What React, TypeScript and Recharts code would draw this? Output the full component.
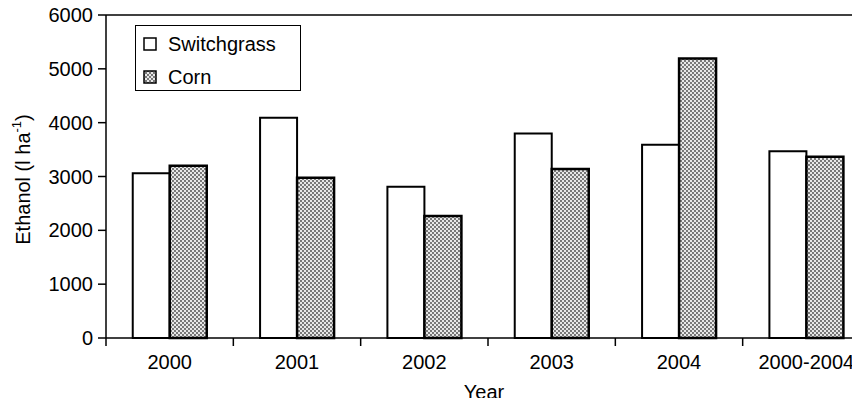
import { Bar, BarChart, Legend, ReferenceLine, XAxis, YAxis } from "recharts";

const years = ["2000", "2001", "2002", "2003", "2004", "2000-2004"];
const switchgrass = [3060, 4090, 2810, 3800, 3590, 3470];
const corn = [3200, 2975, 2265, 3140, 5190, 3365];
const yTicks = [0, 1000, 2000, 3000, 4000, 5000, 6000];

const data = years.map((year, i) => ({ year, switchgrass: switchgrass[i], corn: corn[i] }));

const FONT = '"Liberation Sans", Arial, sans-serif';

// ticks sit on category boundaries, labels in the middle
const YearTick = (props: any) => {
  const { x, y, payload } = props;
  const off = payload.offset ?? 0;
  return (
    <g>
      <line x1={x - off} x2={x - off} y1={y} y2={y + 8} stroke="#000" strokeWidth={1.5} />
      <text x={x} y={y + 31} textAnchor="middle" fontSize={20} fontFamily={FONT} fill="#000">
        {payload.value}
      </text>
    </g>
  );
};

const YLabel = (props: any) => {
  const { viewBox } = props;
  const cx = viewBox.x + 23;
  const cy = viewBox.y + viewBox.height / 2 + 3;
  return (
    <text
      x={cx}
      y={cy}
      transform={`rotate(-90 ${cx} ${cy})`}
      textAnchor="middle"
      dominantBaseline="central"
      fontSize={20}
      fontFamily={FONT}
      fill="#000"
    >
      Ethanol (l ha
      <tspan dy={-7} fontSize={13}>-1</tspan>
      <tspan dy={7}>)</tspan>
    </text>
  );
};

const XLabel = (props: any) => {
  const { viewBox } = props;
  return (
    <text
      x={viewBox.x + viewBox.width / 2 - 4}
      y={viewBox.y + 61}
      textAnchor="middle"
      fontSize={20}
      fontFamily={FONT}
      fill="#000"
    >
      Year
    </text>
  );
};

const LegendBox = () => (
  <div style={{ fontFamily: FONT, fontSize: 20, color: "#000", paddingLeft: 7, paddingTop: 5 }}>
    {[
      { name: "Switchgrass", fill: "#fff" },
      { name: "Corn", fill: "url(#cornDots)" },
    ].map((item) => (
      <div key={item.name} style={{ display: "flex", alignItems: "center", height: 26, marginBottom: 7 }}>
        <svg width={14} height={14} style={{ marginRight: 11 }}>
          <rect x={1} y={1} width={12} height={12} fill={item.fill} stroke="#000" strokeWidth={1.5} />
        </svg>
        <span>{item.name}</span>
      </div>
    ))}
  </div>
);

export default function App() {
  return (
    <div style={{ margin: -8, width: 860, height: 406, overflow: "hidden", background: "#fff", position: "relative" }}>
      <BarChart
        width={880}
        height={406}
        data={data}
        margin={{ top: 15, right: 10, left: 0, bottom: 0 }}
        barCategoryGap="21%"
        barGap={0}
      >
        <defs>
          <pattern id="cornDots" width={4} height={4} patternUnits="userSpaceOnUse">
            <rect width={4} height={4} fill="#e8e8e8" />
            <circle cx={1} cy={1} r={0.9} fill="#444" />
            <circle cx={3} cy={3} r={0.9} fill="#444" />
          </pattern>
        </defs>
        <XAxis
          dataKey="year"
          height={68}
          tickLine={false}
          tickSize={0}
          tickMargin={0}
          axisLine={{ stroke: "#000", strokeWidth: 1.5 }}
          tick={<YearTick />}
          interval={0}
          label={<XLabel />}
        />
        <YAxis
          width={106}
          domain={[0, 6000]}
          ticks={yTicks}
          interval={0}
          tickSize={8}
          tickMargin={5}
          tickLine={{ stroke: "#000", strokeWidth: 1.5 }}
          axisLine={{ stroke: "#000", strokeWidth: 1.5 }}
          tick={{ fill: "#000", fontSize: 20, fontFamily: FONT }}
          label={<YLabel />}
        />
        <ReferenceLine y={6000} stroke="#000" strokeWidth={1.5} />
        <Legend
          layout="vertical"
          align="center"
          verticalAlign="middle"
          content={<LegendBox />}
          wrapperStyle={{
            left: 135,
            top: 25,
            width: 166,
            height: 66,
            border: "1.5px solid #000",
            boxSizing: "border-box",
            background: "#fff",
          }}
        />
        <Bar dataKey="switchgrass" name="Switchgrass" fill="#fff" stroke="#000" strokeWidth={2} isAnimationActive={false} />
        <Bar dataKey="corn" name="Corn" fill="url(#cornDots)" stroke="#000" strokeWidth={2.5} isAnimationActive={false} />
      </BarChart>
    </div>
  );
}
